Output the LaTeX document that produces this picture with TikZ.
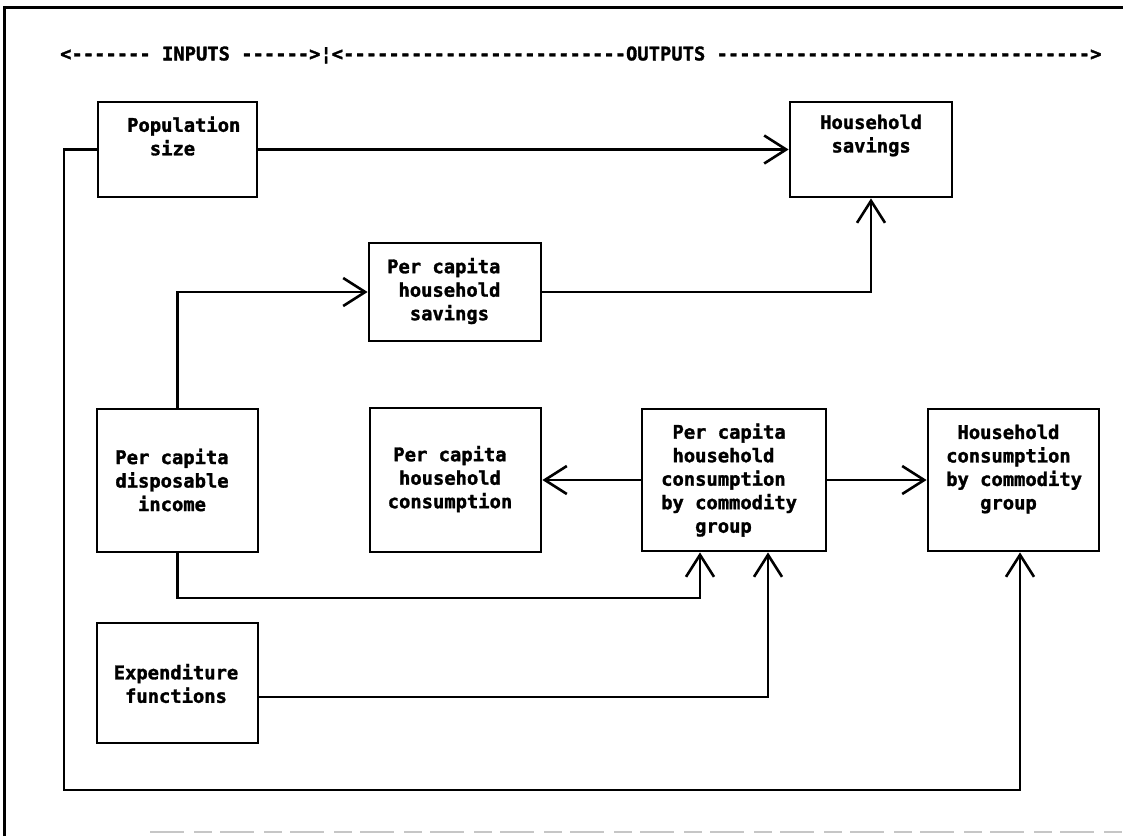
\documentclass[tikz,border=0pt]{standalone}
\usepackage{fontspec}
\newfontfamily\boxfont{DejaVu Sans Mono}[BoldFeatures={FakeBold=1.6}]
\usetikzlibrary{arrows.meta}
\begin{document}
\begin{tikzpicture}[x=1pt,y=-1pt,
  box/.style={draw,line width=2.8pt,inner sep=0pt},
  txt/.style={inner sep=0pt,font=\boxfont\bfseries\fontsize{18.8}{23.5}\selectfont},
  conn/.style={line width=2.6pt,-{Straight Barb[length=22pt,width=28pt]}}]
\useasboundingbox (0,0) rectangle (1123,836);
% frame
\draw[line width=3pt] (4,836) -- (4,7) -- (1123,7);
\draw[gray!45,line width=1.6pt,dash pattern=on 34pt off 10pt on 18pt off 8pt] (150,832) -- (1123,832);
% header
\node[txt,anchor=west] (hdr) at (60,55) {<------- INPUTS ------>¦<-------------------------OUTPUTS --------------------------------->};
% boxes
\node[box,minimum width=159pt,minimum height=95pt] (pop) at (177.5,149.5) {};
\node[box,minimum width=162pt,minimum height=95pt] (hs) at (871,149.5) {};
\node[box,minimum width=172pt,minimum height=98pt] (pchs) at (455,292) {};
\node[box,minimum width=161pt,minimum height=143pt] (pcdi) at (177.5,480.5) {};
\node[box,minimum width=171pt,minimum height=144pt] (pchc) at (455.5,480) {};
\node[box,minimum width=184pt,minimum height=142pt] (pchcc) at (734,480) {};
\node[box,minimum width=171pt,minimum height=142pt] (hcc) at (1013.5,480) {};
\node[box,minimum width=161pt,minimum height=120pt] (exp) at (177.5,683) {};
% texts
\node[txt,anchor=west,align=left] (pop-t) at (127,136) {Population\\\hphantom{xx}size};
\node[txt,anchor=west,align=left] (hs-t) at (820,135.5) {Household\\\hphantom{x}savings};
\node[txt,anchor=west,align=left] (pchs-t) at (387,291) {Per capita\\\hphantom{x}household\\\hphantom{xx}savings};
\node[txt,align=center] (pcdi-t) at (172,480) {Per capita\\disposable\\income};
\node[txt,align=center] (pchc-t) at (450,479) {Per capita\\household\\consumption};
\node[txt,anchor=west,align=left] (pchcc-t) at (661,480) {\hphantom{x}Per capita\\\hphantom{x}household\\consumption\\by commodity\\\hphantom{xxx}group};
\node[txt,anchor=west,align=left] (hcc-t) at (946,469) {\hphantom{x}Household\\consumption\\by commodity\\\hphantom{xxx}group};
\node[txt,align=center] (exp-t) at (176,683.5) {Expenditure\\functions};
% connectors
\coordinate (lb) at (64,790);
\coordinate (rb) at (1020,790);
\coordinate (a1) at (700,598);
\coordinate (a2) at (768,697);
\draw[conn] (pop.east) -- (hs.west);
\draw[conn] (pop.west) -| (lb) -- (rb) -- (rb |- hcc.south);
\draw[conn] (pcdi.north) |- (pchs.west);
\draw[conn] (pchs.east) -| (hs.south);
\draw[conn] (pchcc.west) -- (pchc.east);
\draw[conn] (pchcc.east) -- (hcc.west);
\draw[conn] (pcdi.south) |- (a1) -- (a1 |- pchcc.south);
\draw[conn] (exp.east |- a2) -- (a2) -- (a2 |- pchcc.south);
\end{tikzpicture}
\end{document}
